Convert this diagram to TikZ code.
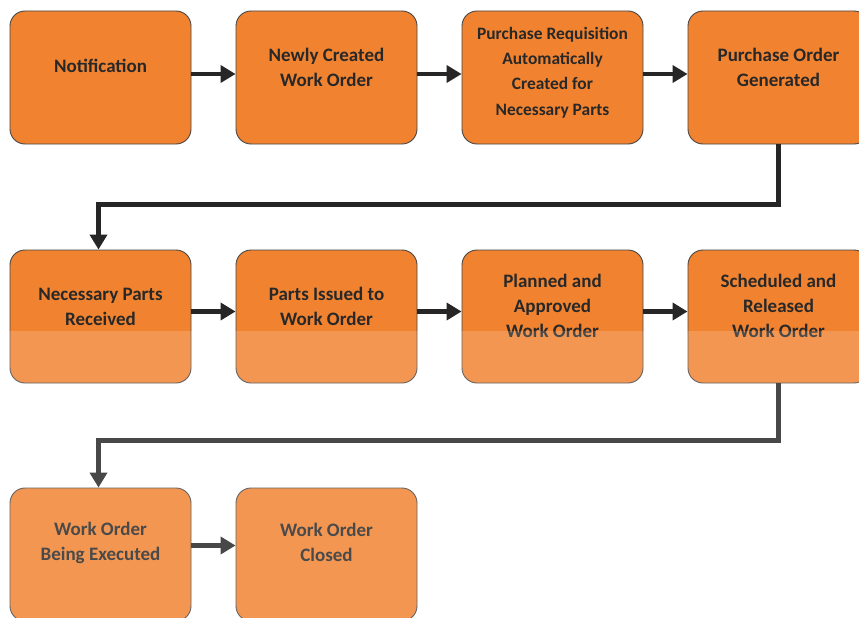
\documentclass[tikz,border=0pt]{standalone}
\usepackage{fontspec}
\setmainfont{Carlito}
\usetikzlibrary{arrows.meta,calc}
\definecolor{boxfill}{RGB}{241,131,48}
\definecolor{boxline}{RGB}{70,70,70}
\definecolor{txt}{RGB}{40,40,40}
\definecolor{flow}{RGB}{38,38,38}
\begin{document}
\begin{tikzpicture}[x=1pt,y=-1pt,
  stepbox/.style={draw=boxline,line width=0.9pt,fill=boxfill,rounded corners=15pt,
    minimum width=181pt,minimum height=133pt,inner sep=0pt},
  steptext/.style={text=txt,font=\bfseries\fontsize{19}{25}\selectfont,align=center,inner sep=0pt},
  flowline/.style={draw=flow,line width=4.6pt,-{Triangle[length=15pt,width=17pt]}}]
\useasboundingbox (0,0) rectangle (859,618);
\fill[white] (0,0) rectangle (859,618);

% boxes, row by row
\node[stepbox] (n1) at (100.5,77.5) {};
\node[stepbox] (n2) at (326.5,77.5) {};
\node[stepbox] (n3) at (552.5,77.5) {};
\node[stepbox] (n4) at (778.5,77.5) {};
\node[stepbox] (n5) at (100.5,316.5) {};
\node[stepbox] (n6) at (326.5,316.5) {};
\node[stepbox] (n7) at (552.5,316.5) {};
\node[stepbox] (n8) at (778.5,316.5) {};
\node[stepbox] (n9) at (100.5,554.5) {};
\node[stepbox] (n10) at (326.5,554.5) {};

% labels
\node[steptext] (t1) at ($(n1.center)+(0,-12)$) {Notification};
\node[steptext] (t2) at ($(n2.center)+(0,-10)$) {Newly Created\\Work Order};
\node[steptext,font=\bfseries\fontsize{17.4}{25.3}\selectfont] (t3) at ($(n3.center)+(0,-5)$) {Purchase Requisition\\Automatically\\Created for\\Necessary Parts};
\node[steptext] (t4) at ($(n4.center)+(0,-10)$) {Purchase Order\\Generated};
\node[steptext] (t5) at ($(n5.center)+(0,-10)$) {Necessary Parts\\Received};
\node[steptext] (t6) at ($(n6.center)+(0,-10)$) {Parts Issued to\\Work Order};
\node[steptext] (t7) at ($(n7.center)+(0,-11)$) {Planned and\\Approved\\Work Order};
\node[steptext] (t8) at ($(n8.center)+(0,-11)$) {Scheduled and\\Released\\Work Order};
\node[steptext] (t9) at ($(n9.center)+(0,-12)$) {Work Order\\Being Executed};
\node[steptext] (t10) at ($(n10.center)+(0,-12)$) {Work Order\\Closed};

% connectors
\coordinate (r1) at ($(n4.south)+(0,60)$);
\coordinate (r2) at ($(n8.south)+(0,57)$);
\draw[flowline] ([yshift=3.5pt]n1.east) -- ([yshift=3.5pt]n2.west);
\draw[flowline] ([yshift=3.5pt]n2.east) -- ([yshift=3.5pt]n3.west);
\draw[flowline] ([yshift=3.5pt]n3.east) -- ([yshift=3.5pt]n4.west);
\draw[flowline] (n4.south) -- (r1) -| ([xshift=-2pt]n5.north);
\draw[flowline] ([yshift=5pt]n5.east) -- ([yshift=5pt]n6.west);
\draw[flowline] ([yshift=5pt]n6.east) -- ([yshift=5pt]n7.west);
\draw[flowline] ([yshift=5pt]n7.east) -- ([yshift=5pt]n8.west);
\draw[flowline] (n8.south) -- (r2) -| ([xshift=-2pt]n9.north);
\draw[flowline] ([yshift=9pt]n9.east) -- ([yshift=9pt]n10.west);

% pale wash over the lower part of the sheet
\fill[white,opacity=0.16] (0,331) rectangle (859,618);
\end{tikzpicture}
\end{document}
